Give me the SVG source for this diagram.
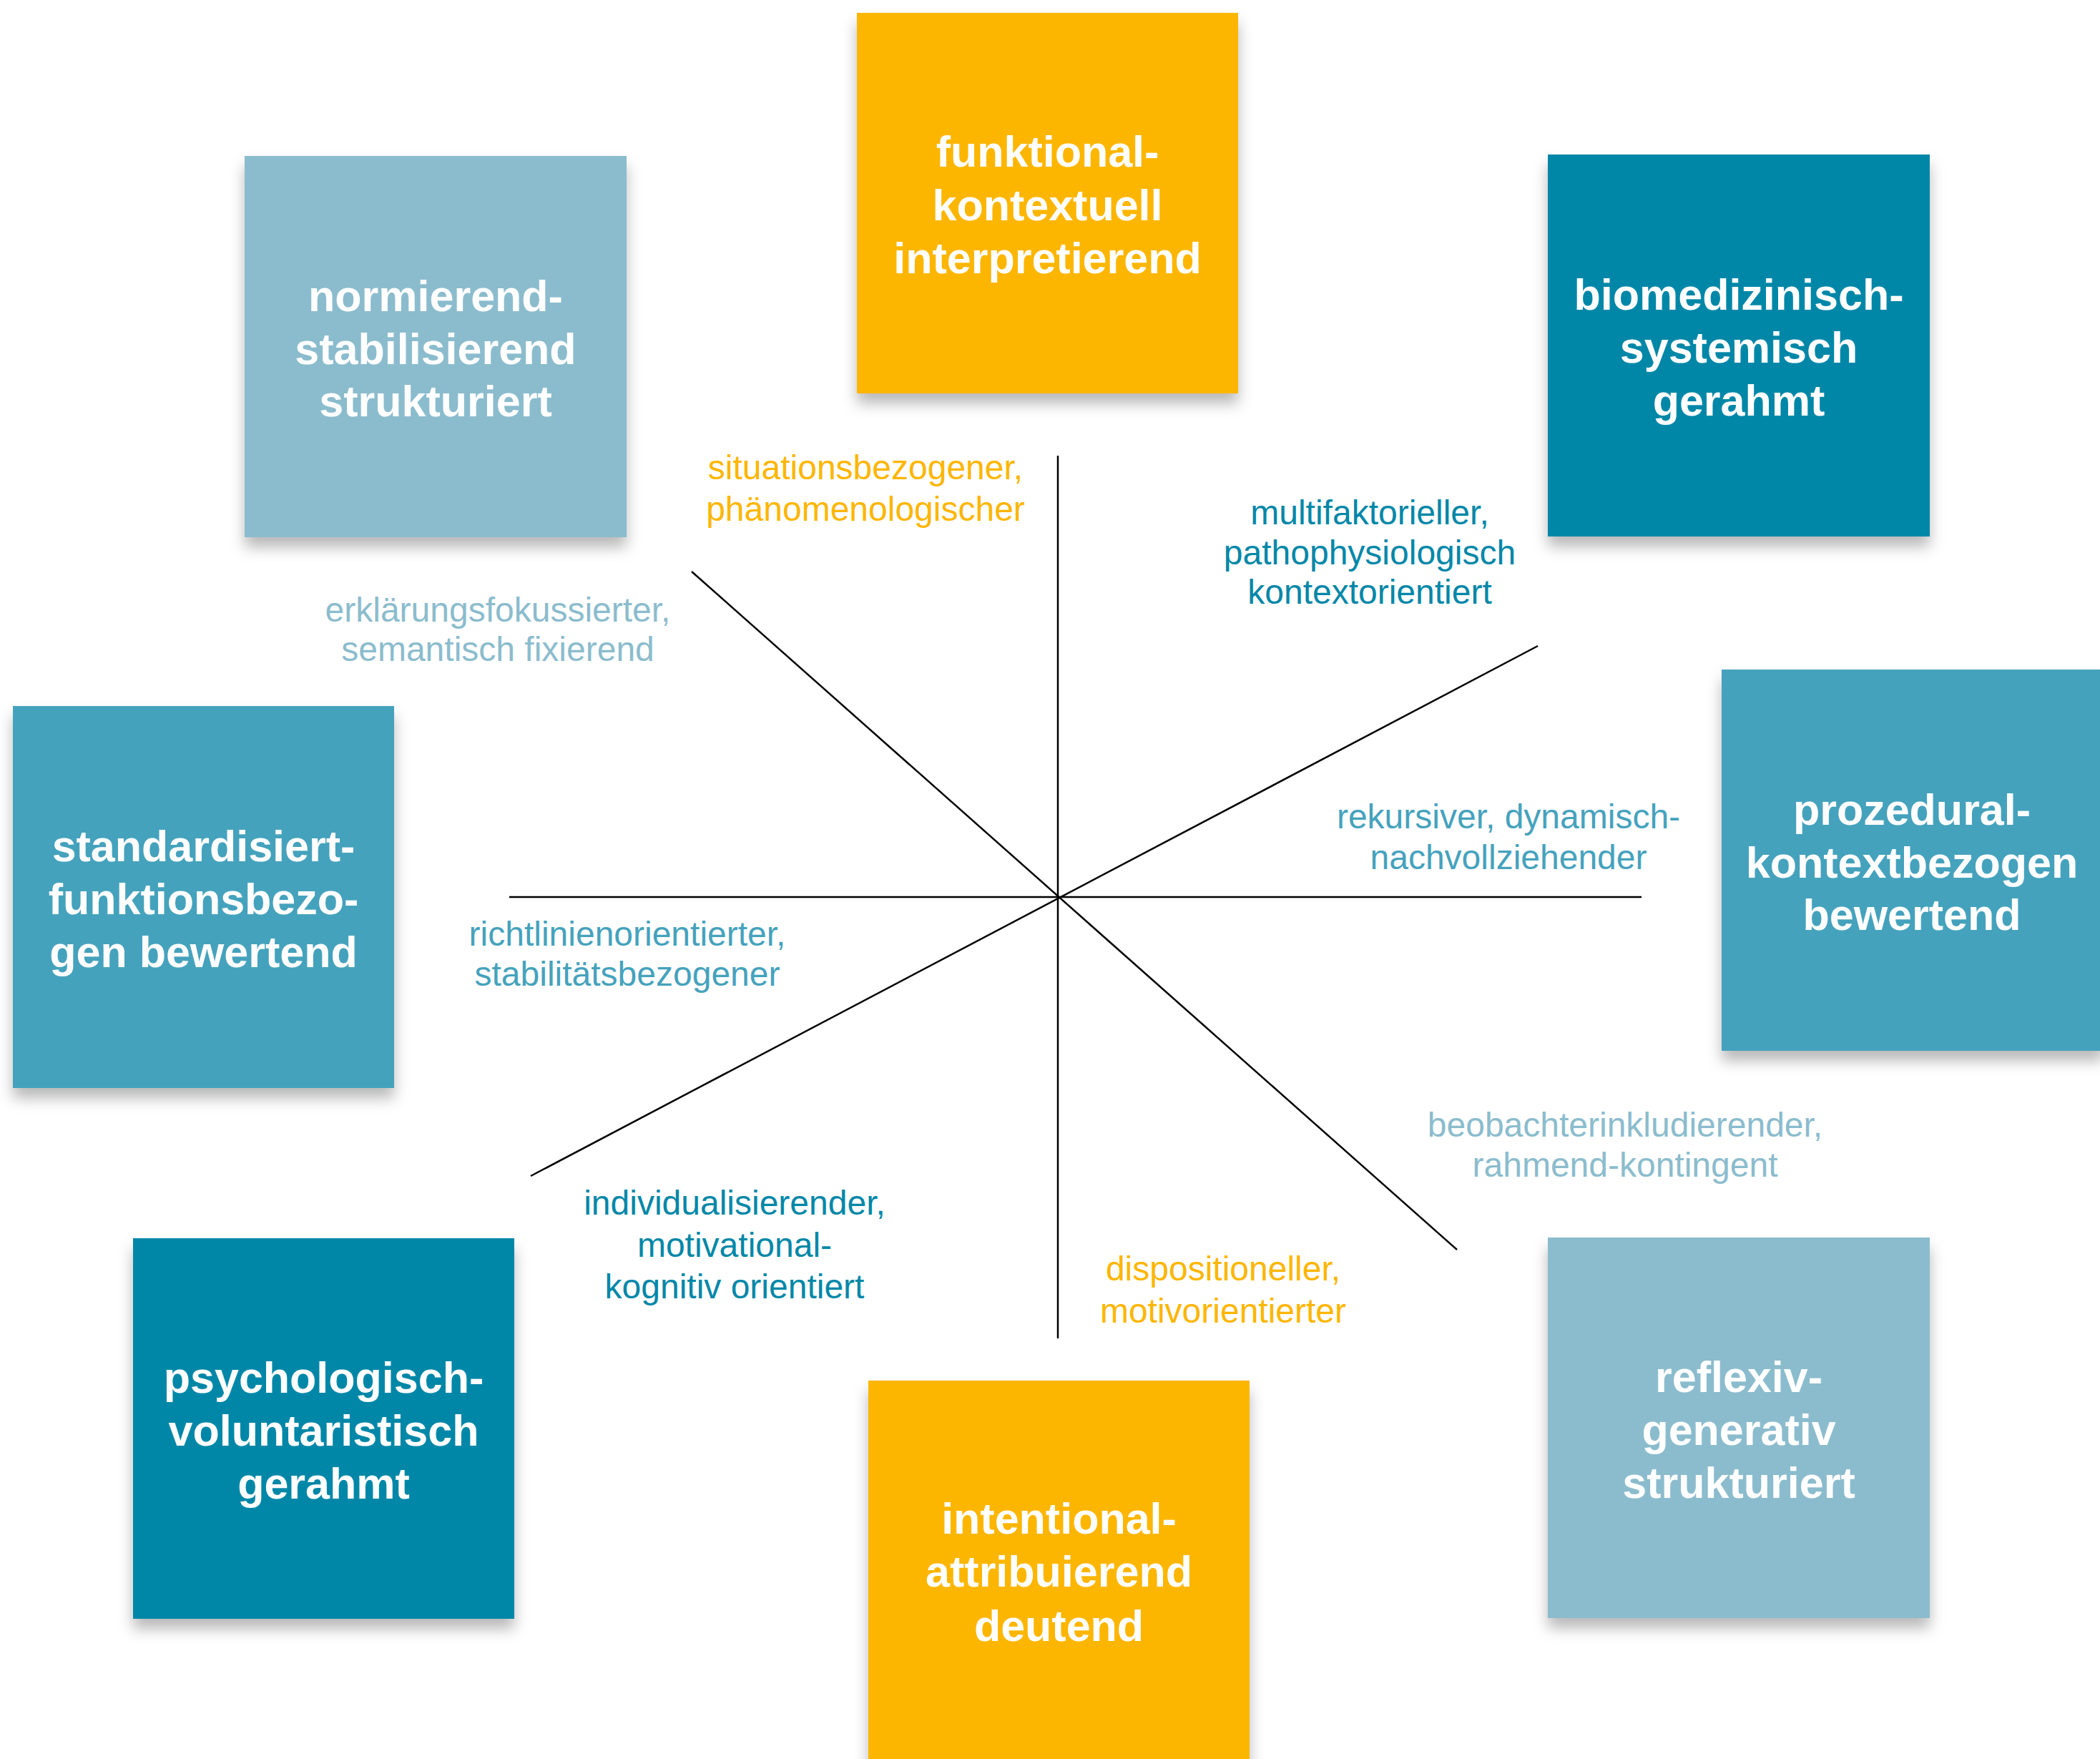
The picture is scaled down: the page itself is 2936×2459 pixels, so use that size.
<svg xmlns="http://www.w3.org/2000/svg" width="2936" height="2459" viewBox="0 0 2936 2459">
<style>
.box text{font-family:"Liberation Sans",Arial,sans-serif;font-weight:bold;font-size:61px;fill:#ffffff;text-anchor:middle}
.lbl{font-family:"Liberation Sans",Arial,sans-serif;font-size:48px;text-anchor:middle}
.y{fill:#FDB600}.lb{fill:#8BBCCD}.dt{fill:#0087A8}.mt{fill:#45A2BD}
.conn line{stroke:#000;stroke-width:2.5}
</style>
<defs>
<filter id="sh" x="-10%" y="-10%" width="120%" height="130%">
<feDropShadow dx="0" dy="14" stdDeviation="10" flood-color="#000" flood-opacity="0.28"/>
</filter>
</defs>
<rect width="2936" height="2459" fill="#ffffff"/>
<g class="conn" id="connectors">
<line x1="1479" y1="637" x2="1479" y2="1871"/>
<line x1="712" y1="1254" x2="2295" y2="1254"/>
<line x1="967" y1="799" x2="2037" y2="1747"/>
<line x1="742" y1="1644" x2="2150" y2="903"/>
</g>
<g class="box" id="funktional">
<rect x="1198" y="18" width="533" height="532" class="y" filter="url(#sh)"/>
<text x="1464.5" y="233">funktional-</text>
<text x="1464.5" y="308">kontextuell</text>
<text x="1464.5" y="382">interpretierend</text>
</g>
<g class="box" id="normierend">
<rect x="342" y="218" width="534" height="533" class="lb" filter="url(#sh)"/>
<text x="609" y="435">normierend-</text>
<text x="609" y="509">stabilisierend</text>
<text x="609" y="582">strukturiert</text>
</g>
<g class="box" id="biomedizinisch">
<rect x="2164" y="216" width="534" height="534" class="dt" filter="url(#sh)"/>
<text x="2431" y="433">biomedizinisch-</text>
<text x="2431" y="507">systemisch</text>
<text x="2431" y="581">gerahmt</text>
</g>
<g class="box" id="prozedural">
<rect x="2407" y="936" width="534" height="533" class="mt" filter="url(#sh)"/>
<text x="2673" y="1153">prozedural-</text>
<text x="2673" y="1227">kontextbezogen</text>
<text x="2673" y="1300">bewertend</text>
</g>
<g class="box" id="standardisiert">
<rect x="18" y="987" width="533" height="534" class="mt" filter="url(#sh)"/>
<text x="284.5" y="1204">standardisiert-</text>
<text x="284.5" y="1278">funktionsbezo-</text>
<text x="284.5" y="1352">gen bewertend</text>
</g>
<g class="box" id="psychologisch">
<rect x="186" y="1731" width="533" height="532" class="dt" filter="url(#sh)"/>
<text x="452.5" y="1947">psychologisch-</text>
<text x="452.5" y="2021">voluntaristisch</text>
<text x="452.5" y="2095">gerahmt</text>
</g>
<g class="box" id="intentional">
<rect x="1214" y="1930" width="533" height="540" class="y" filter="url(#sh)"/>
<text x="1480.5" y="2144">intentional-</text>
<text x="1480.5" y="2218">attribuierend</text>
<text x="1480.5" y="2294">deutend</text>
</g>
<g class="box" id="reflexiv">
<rect x="2164" y="1730" width="534" height="532" class="lb" filter="url(#sh)"/>
<text x="2431" y="1946">reflexiv-</text>
<text x="2431" y="2020">generativ</text>
<text x="2431" y="2094">strukturiert</text>
</g>
<g id="labels">
<text class="lbl y" x="1210" y="670">situationsbezogener,</text>
<text class="lbl y" x="1210" y="728">phänomenologischer</text>
<text class="lbl dt" x="1915" y="733">multifaktorieller,</text>
<text class="lbl dt" x="1915" y="789">pathophysiologisch</text>
<text class="lbl dt" x="1915" y="844">kontextorientiert</text>
<text class="lbl lb" x="696" y="869">erklärungsfokussierter,</text>
<text class="lbl lb" x="696" y="924">semantisch fixierend</text>
<text class="lbl mt" x="2109" y="1158">rekursiver, dynamisch-</text>
<text class="lbl mt" x="2109" y="1215">nachvollziehender</text>
<text class="lbl mt" x="877" y="1322">richtlinienorientierter,</text>
<text class="lbl mt" x="877" y="1378">stabilitätsbezogener</text>
<text class="lbl dt" x="1027" y="1698">individualisierender,</text>
<text class="lbl dt" x="1027" y="1757">motivational-</text>
<text class="lbl dt" x="1027" y="1815">kognitiv orientiert</text>
<text class="lbl y" x="1710" y="1790">dispositioneller,</text>
<text class="lbl y" x="1710" y="1849">motivorientierter</text>
<text class="lbl lb" x="2272" y="1589">beobachterinkludierender,</text>
<text class="lbl lb" x="2272" y="1645">rahmend-kontingent</text>
</g>
</svg>
